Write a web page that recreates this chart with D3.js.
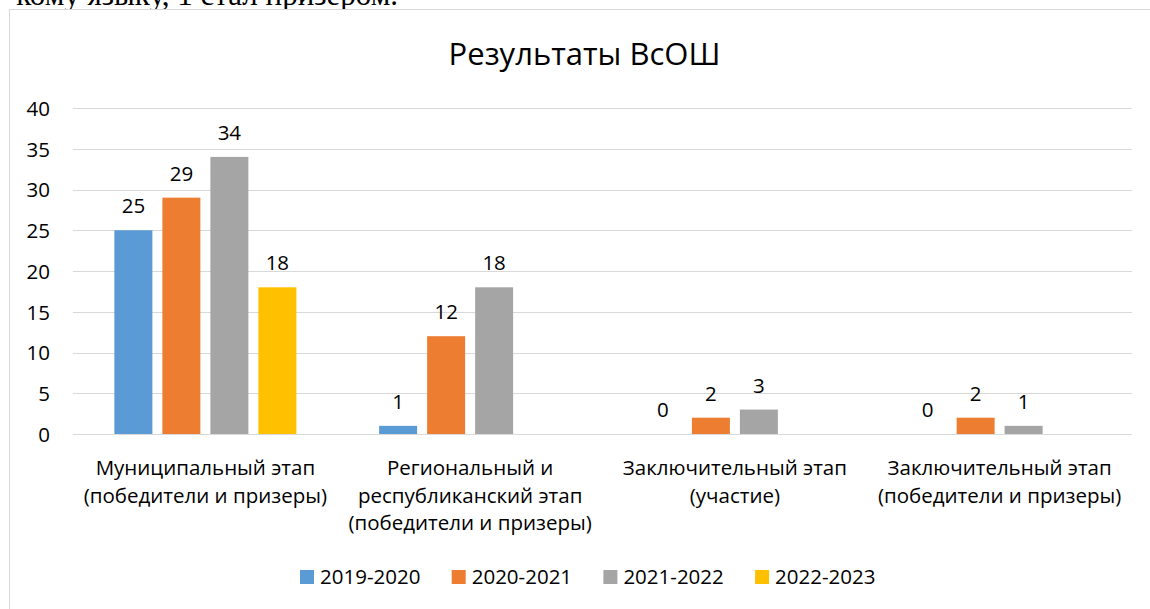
<!DOCTYPE html>
<html>
<head>
<meta charset="utf-8">
<script src="https://cdn.jsdelivr.net/npm/d3@7"></script>
<style>
  html, body { margin: 0; padding: 0; background: #fff; overflow: hidden; }
  svg { display: block; }
  text { font-family: "Open Sans", "Noto Sans", sans-serif; fill: #000; }
</style>
</head>
<body>
<svg id="chart" width="1150" height="609"></svg>
<script>
const categories = [
  ["Муниципальный этап", "(победители и призеры)"],
  ["Региональный и", "республиканский этап", "(победители и призеры)"],
  ["Заключительный этап", "(участие)"],
  ["Заключительный этап", "(победители и призеры)"]
];
const seriesNames = ["2019-2020", "2020-2021", "2021-2022", "2022-2023"];
const values2019 = [25, 1, 0, 0];
const values2020 = [29, 12, 2, 2];
const values2021 = [34, 18, 3, 1];
const values2022 = [18, null, null, null];
const yTicks = [0, 5, 10, 15, 20, 25, 30, 35, 40];
const colors = ["#5B9BD5", "#ED7D31", "#A5A5A5", "#FFC000"];
const title = "Результаты ВсОШ";
const topText = "кому языку, 1 стал призером.";

const series = [values2019, values2020, values2021, values2022];
const svg = d3.select("#chart");
const FS = "20.5px";

// partial document text above chart
svg.append("text").attr("x", 398).attr("y", 5).attr("text-anchor", "end")
  .style("font-family", "'Liberation Serif', serif").style("font-size", "31px")
  .text(topText);

// chart frame
svg.append("rect").attr("x", 9.5).attr("y", 9.5).attr("width", 1151).attr("height", 620)
  .attr("fill", "#fff").attr("stroke", "#d9d9d9").attr("stroke-width", 1);

const x0 = d3.scaleBand().domain(d3.range(categories.length)).range([73, 1132]).padding(0);
const x1 = d3.scaleBand().domain(d3.range(seriesNames.length)).range([-96, 96])
  .paddingInner(10 / 48).paddingOuter(5 / 48);
const y = d3.scaleLinear().domain([0, 40]).range([434, 108]);

// gridlines
svg.append("g").selectAll("line").data(yTicks).join("line")
  .attr("x1", 73).attr("x2", 1132)
  .attr("y1", d => Math.round(y(d)) + 0.5).attr("y2", d => Math.round(y(d)) + 0.5)
  .attr("stroke", "#d9d9d9").attr("stroke-width", 1);

// y axis labels
const yAxis = d3.axisLeft(y).tickValues(yTicks).tickSize(0).tickPadding(0);
const yg = svg.append("g").attr("transform", "translate(50,0)").call(yAxis);
yg.select(".domain").remove();
yg.selectAll("text").style("font-size", FS).style("font-family", "'Open Sans', sans-serif")
  .attr("fill", "#000").attr("dy", "0.36em");

// bars
const groups = svg.append("g").selectAll("g").data(categories).join("g")
  .attr("transform", (d, i) => `translate(${x0(i) + x0.bandwidth() / 2},0)`);

groups.each(function (c, ci) {
  const g = d3.select(this);
  series.forEach((vals, si) => {
    const v = vals[ci];
    if (v === null || v === undefined) return;
    g.append("rect")
      .attr("x", x1(si)).attr("width", x1.bandwidth())
      .attr("y", y(v)).attr("height", y(0) - y(v))
      .attr("fill", colors[si]);
    g.append("text")
      .attr("x", x1(si) + x1.bandwidth() / 2).attr("y", y(v) - 17)
      .attr("text-anchor", "middle").style("font-size", FS)
      .text(v);
  });
  const t = g.append("text").attr("text-anchor", "middle").style("font-size", FS);
  c.forEach((line, li) => {
    t.append("tspan").attr("x", 0).attr("y", 475 + li * 27.5).text(line);
  });
});

// title
svg.append("text").attr("x", 584.5).attr("y", 65).attr("text-anchor", "middle")
  .style("font-size", "31px").text(title);

// legend
const legend = svg.append("g").selectAll("g").data(seriesNames).join("g")
  .attr("transform", (d, i) => `translate(${300 + i * 151.7},570)`);
legend.append("rect").attr("width", 14).attr("height", 14).attr("fill", (d, i) => colors[i]);
legend.append("text").attr("x", 20).attr("y", 7).attr("dy", "0.36em")
  .style("font-size", FS).text(d => d);
</script>
</body>
</html>
